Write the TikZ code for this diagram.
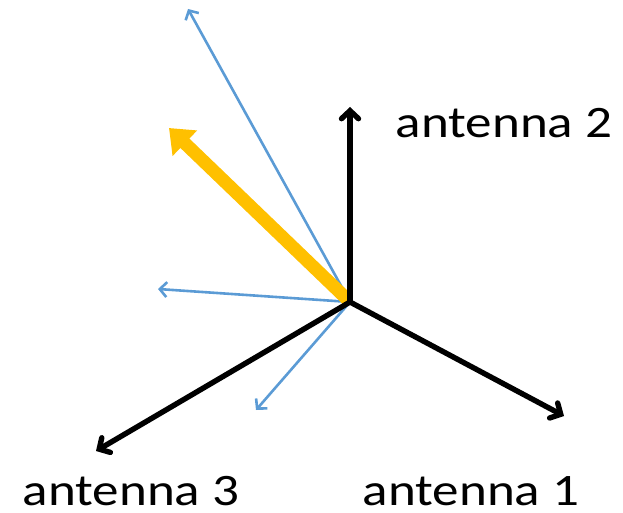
\documentclass[tikz,border=0pt]{standalone}
\usepackage{fontspec}
\setmainfont{Carlito}
\usetikzlibrary{arrows.meta}
\definecolor{ablue}{RGB}{91,155,213}
\definecolor{ayellow}{RGB}{255,192,0}
\tikzset{
  ant/.style={line width=5.4pt, black, line cap=round, -{Straight Barb[length=8pt,width=17pt,line cap=round]}},
  ray/.style={line width=2.6pt, ablue, line cap=round, -{Straight Barb[length=7pt,width=15pt]}},
  main/.style={line width=13pt, ayellow, -{Triangle[length=22pt,width=34pt]}, shorten <=2pt},
  lbl/.style={font=\fontsize{45}{54}\selectfont, inner sep=0pt, anchor=base, xscale=1.18}
}
\begin{document}
\begin{tikzpicture}[x=1pt,y=-1pt]
\useasboundingbox (0,0) rectangle (623,513);
\coordinate (o) at (350,302);
\coordinate (bo) at (350,302);
\coordinate (e2) at (350,107);
\coordinate (e1) at (564,416);
\coordinate (e3) at (96,451);
\coordinate (b1) at (188,9);
\coordinate (b2) at (158,289);
\coordinate (b3) at (256,410);
\coordinate (y1) at (169,128);
\draw[ray] (bo) -- (b1);
\draw[ray] (bo) -- (b2);
\draw[ray] (bo) -- (b3);
\draw[main] (o) -- (y1);
\draw[ant] (o) -- (e2);
\draw[ant] (o) -- (e1);
\draw[ant] (o) -- (e3);
\node[lbl] (l2) at (504,138) {antenna 2};
\node[lbl] (l1) at (471,505) {antenna 1};
\node[lbl] (l3) at (131,505) {antenna 3};
\end{tikzpicture}
\end{document}
